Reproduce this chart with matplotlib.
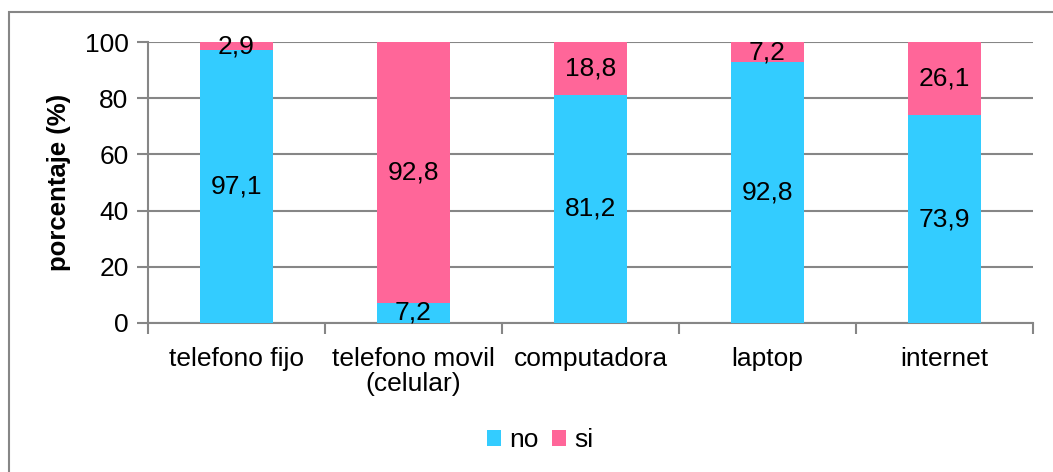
import numpy as np
import matplotlib
matplotlib.use('Agg')
import matplotlib.pyplot as plt
from matplotlib.patches import Rectangle

plt.rcParams['font.family'] = ['Liberation Sans', 'DejaVu Sans']

categorias = ['telefono fijo', 'telefono movil\n(celular)', 'computadora', 'laptop', 'internet']
no_vals = [97.1, 7.2, 81.2, 92.8, 73.9]
si_vals = [2.9, 92.8, 18.8, 7.2, 26.1]

c_no = '#33CCFF'
c_si = '#FF6699'
gris = '#868686'

fig = plt.figure(figsize=(10.53, 4.72), dpi=100)
ax = fig.add_axes([148/1053, 1-323/472, (1033-148)/1053, (323-42)/472])

x = np.arange(len(categorias))
b1 = ax.bar(x, no_vals, width=0.41, color=c_no, label='no', zorder=3)
b2 = ax.bar(x, si_vals, width=0.41, bottom=no_vals, color=c_si, label='si', zorder=3)

for i in range(len(x)):
    ax.text(x[i], no_vals[i]/2, f'{no_vals[i]:.1f}'.replace('.', ','), ha='center', va='center',
            fontsize=19, zorder=4)
    ax.text(x[i], no_vals[i] + si_vals[i]/2, f'{si_vals[i]:.1f}'.replace('.', ','), ha='center',
            va='center', fontsize=19, zorder=4)

ax.set_xlim(-0.5, len(x)-0.5)
ax.set_ylim(0, 100)
ax.set_yticks([0, 20, 40, 60, 80, 100])
ax.yaxis.grid(True, color=gris, linewidth=1.5, zorder=0)
ax.set_axisbelow(True)

ax.set_xticks(x)
ax.set_xticklabels(categorias, fontsize=19, linespacing=1.05)
ax.set_xticks(np.arange(-0.5, len(x), 1), minor=True)
ax.tick_params(axis='x', which='major', length=0, pad=17)
ax.tick_params(axis='x', which='minor', length=8, width=1.5, color=gris, direction='out')
ax.tick_params(axis='y', length=8, width=1.5, color=gris, labelsize=19, pad=6)

for s in ['top', 'right']:
    ax.spines[s].set_visible(False)
for s in ['left', 'bottom']:
    ax.spines[s].set_color(gris)
    ax.spines[s].set_linewidth(1.5)

ax.set_ylabel('porcentaje (%)', fontsize=18.5, fontweight='bold', labelpad=10)

fig.legend(handles=[b1, b2], labels=['no', 'si'], loc='center', bbox_to_anchor=(540/1053, 1-440/472),
           ncol=2, frameon=False, fontsize=19, handlelength=0.55, handleheight=0.55,
           handletextpad=0.3, columnspacing=0.5)

fig.patches.append(Rectangle((9/1053, -0.1), 1.2, 1-12/472+0.1, transform=fig.transFigure,
                             fill=False, edgecolor=gris, linewidth=1.5))

fig.savefig('out.png', dpi=100)
